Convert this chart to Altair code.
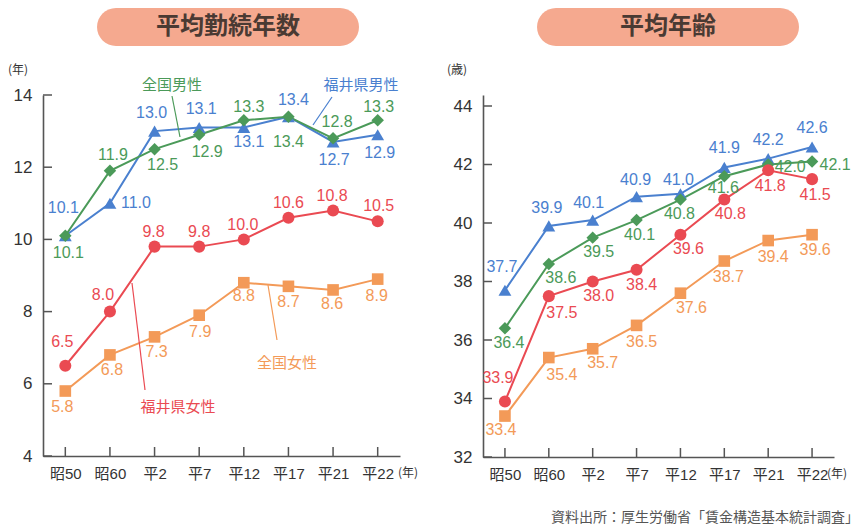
import altair as alt
import pandas as pd

# ---------------- data ----------------
categories = ["昭50", "昭60", "平2", "平7", "平12", "平17", "平21", "平22"]
series_names = ["福井県男性", "全国男性", "福井県女性", "全国女性"]

tenure_fukui_male = [10.1, 11.0, 13.0, 13.1, 13.1, 13.4, 12.7, 12.9]
tenure_japan_male = [10.1, 11.9, 12.5, 12.9, 13.3, 13.4, 12.8, 13.3]
tenure_fukui_female = [6.5, 8.0, 9.8, 9.8, 10.0, 10.6, 10.8, 10.5]
tenure_japan_female = [5.8, 6.8, 7.3, 7.9, 8.8, 8.7, 8.6, 8.9]

age_fukui_male = [37.7, 39.9, 40.1, 40.9, 41.0, 41.9, 42.2, 42.6]
age_japan_male = [36.4, 38.6, 39.5, 40.1, 40.8, 41.6, 42.0, 42.1]
age_fukui_female = [33.9, 37.5, 38.0, 38.4, 39.6, 40.8, 41.8, 41.5]
age_japan_female = [33.4, 35.4, 35.7, 36.5, 37.6, 38.7, 39.4, 39.6]

tenure_ticks = [4, 6, 8, 10, 12, 14]
age_ticks = [32, 34, 36, 38, 40, 42, 44]

title_left = "平均勤続年数"
title_right = "平均年齢"
source_text = "資料出所：厚生労働省「賃金構造基本統計調査」"

# ---------------- style ----------------
colors = ["#4a80cf", "#4b9a59", "#ea4a52", "#f39a58"]
shapes = ["triangle-up", "diamond", "circle", "square"]
sizes = [165, 135, 125, 145]
AXIS = "#555555"
NUM_FONT = "Liberation Sans, Noto Sans CJK JP"
CJK_FONT = "Noto Sans CJK JP"
PILL = "#f5a98f"

# label placement offsets in pixels (dx, dy) per series, per point
tenure_label_dx = [[-2, 26, -3, 2, 5, 5, 1, 2],
                   [3, 3, 8, 8, 5, 0, 4, 1],
                   [-3, -7, -1, 0, -1, 0, -1, 1],
                   [-3, 2, 2, 1, 0, 0, -1, -1]]
tenure_label_dy = [[-28, 0, -18, -18, 15, -17, 18, 18],
                   [17, -16, 16, 17, -13, 25, -16, -13],
                   [-24, -17, -15, -15, -14, -15, -15, -15],
                   [16, 15, 15, 17, 13, 16, 14, 17]]
age_label_dx = [[-3, -2, -4, -1, -2, 0, 0, 0],
                [4, 12, 6, 3, -1, -1, 22, 23],
                [-7, 13, 6, 5, 8, 6, 2, 3],
                [-4, 13, 10, 5, 11, 4, 5, 3]]
age_label_dy = [[-23, -18, -17, -17, -14, -19, -19, -19],
                [15, 14, 14, 15, 14, 12, 2, 3],
                [-23, 17, 14, 15, 14, 14, 16, 16],
                [14, 17, 14, 17, 15, 16, 16, 15]]

# series-name callouts for the left panel (pixel layout)
callout_names = ["全国男性", "福井県男性", "福井県女性", "全国女性"]
callout_colors = ["#4b9a59", "#4a80cf", "#ea4a52", "#f39a58"]
callout_tx = [129, 318, 135, 244]
callout_ty = [-10, -10, 312, 268]
callout_x1 = [129, 289, 102, 234]
callout_y1 = [1, 2, 295, 245]
callout_x2 = [137, 270, 89, 225]
callout_y2 = [42, 30, 188, 190]


def long_frame(series_values, dxs, dys):
    rows = []
    for s, vals, dx, dy in zip(series_names, series_values, dxs, dys):
        for c, v, a, b in zip(categories, vals, dx, dy):
            rows.append({"cat": c, "value": v, "series": s, "dx": a, "dy": b})
    return pd.DataFrame(rows)


def panel(df, ticks, top, W, H, title, unit_char, unit_x_left, xunit_left, extra=None):
    xscale = alt.Scale(type="point", padding=0.5, domain=categories)
    yscale = alt.Scale(domain=[ticks[0], top], nice=False, zero=False)
    units_per_px = (top - ticks[0]) / H
    X = alt.X("cat:N", scale=xscale, sort=categories, title=None,
              axis=alt.Axis(ticks=False, labelAngle=0, labelFontSize=15, labelFont=NUM_FONT,
                            labelColor="#333333", labelPadding=10, domainColor=AXIS,
                            domainWidth=1.6, grid=False))
    Y = alt.Y("value:Q", scale=yscale, title=None,
              axis=alt.Axis(values=ticks, ticks=False, labelFontSize=17, labelFont=NUM_FONT,
                            labelColor="#333333", labelPadding=11, domainColor=AXIS,
                            domainWidth=1.6, grid=False))
    color = alt.Color("series:N", scale=alt.Scale(domain=series_names, range=colors), legend=None)
    shape = alt.Shape("series:N", scale=alt.Scale(domain=series_names, range=shapes), legend=None)
    size = alt.Size("series:N", scale=alt.Scale(domain=series_names, range=sizes), legend=None)

    base = alt.Chart(df)
    lines = base.mark_line(strokeWidth=2).encode(x=X, y=Y, color=color)
    points = base.mark_point(filled=True, opacity=1).encode(x=X, y=Y, color=color, shape=shape, size=size)
    labels = base.transform_calculate(
        ly=f"datum.value - datum.dy * {units_per_px}"
    ).mark_text(fontSize=16, font=NUM_FONT, baseline="middle", align="center").encode(
        x=X, y=alt.Y("ly:Q", scale=yscale, title=None), color=color,
        text=alt.Text("value:Q", format=".1f"),
        xOffset=alt.XOffset("dx:Q", scale=None),
    )

    ytick = alt.Chart(pd.DataFrame({"t": ticks})).mark_rule(color=AXIS, strokeWidth=1.5).encode(
        y=alt.Y("t:Q", scale=yscale, title=None), x=alt.value(0), x2=alt.value(9))
    xtick = alt.Chart(pd.DataFrame({"c": categories})).mark_rule(color=AXIS, strokeWidth=1.5).encode(
        x=alt.X("c:N", scale=xscale, sort=categories, title=None), y=alt.value(H), y2=alt.value(H - 9))

    one = alt.Chart(pd.DataFrame({"a": [0]}))
    pill_top = -87
    pill = one.mark_rect(color=PILL, cornerRadius=19).encode(
        x=alt.value(54), x2=alt.value(316), y=alt.value(pill_top), y2=alt.value(pill_top + 38))
    ptext = one.mark_text(text=title, fontSize=24, fontWeight="bold", font=CJK_FONT,
                          color="#4a3a33", baseline="middle", align="center").encode(
        x=alt.value(185), y=alt.value(pill_top + 19))
    yunit = one.mark_text(text="(" + unit_char + ")", fontSize=12,
                          font=CJK_FONT, color="#333333", align="left", baseline="middle").encode(
        x=alt.value(unit_x_left), y=alt.value(-25))
    xunit = one.mark_text(text="(年)", fontSize=12, font=CJK_FONT, color="#333333",
                          align="left", baseline="middle").encode(
        x=alt.value(xunit_left), y=alt.value(H + 17))

    layers = [pill, ptext, yunit, xunit, lines, points, labels, ytick, xtick]
    if extra is not None:
        layers += extra
    return alt.layer(*layers).properties(width=W, height=H)


tenure_df = long_frame([tenure_fukui_male, tenure_japan_male, tenure_fukui_female, tenure_japan_female],
                       tenure_label_dx, tenure_label_dy)
age_df = long_frame([age_fukui_male, age_japan_male, age_fukui_female, age_japan_female],
                    age_label_dx, age_label_dy)

callout_df = pd.DataFrame({"name": callout_names, "col": callout_colors,
                           "tx": callout_tx, "ty": callout_ty,
                           "x1": callout_x1, "y1": callout_y1, "x2": callout_x2, "y2": callout_y2})
callout_lines = alt.Chart(callout_df).mark_rule(strokeWidth=1.2).encode(
    x=alt.X("x1:Q", scale=None), y=alt.Y("y1:Q", scale=None),
    x2="x2:Q", y2="y2:Q", color=alt.Color("col:N", scale=None))
callout_text = alt.Chart(callout_df).mark_text(fontSize=15, font=CJK_FONT, baseline="middle",
                                               align="center").encode(
    x=alt.X("tx:Q", scale=None), y=alt.Y("ty:Q", scale=None), text="name:N",
    color=alt.Color("col:N", scale=None))

source = alt.Chart(pd.DataFrame({"a": [0]})).mark_text(
    text=source_text, fontSize=14, font=CJK_FONT, color="#555555", align="right",
    baseline="middle").encode(x=alt.value(376), y=alt.value(423))

# right panel: axis line runs a little above the top tick (44), as in the reference
age_top = 44 + 11 / 29.25

left = panel(tenure_df, tenure_ticks, 14, 357, 361, title_left, "年", -35, 355)
left = alt.layer(left, callout_lines, callout_text)
right = panel(age_df, age_ticks, age_top, 351, 362, title_right, "歳", -36, 344, extra=[source])

chart = alt.hconcat(left, right, spacing=28).properties(padding=0).configure_view(stroke=None)

chart.save("out.html", embed_options={"renderer": "svg", "actions": False})
